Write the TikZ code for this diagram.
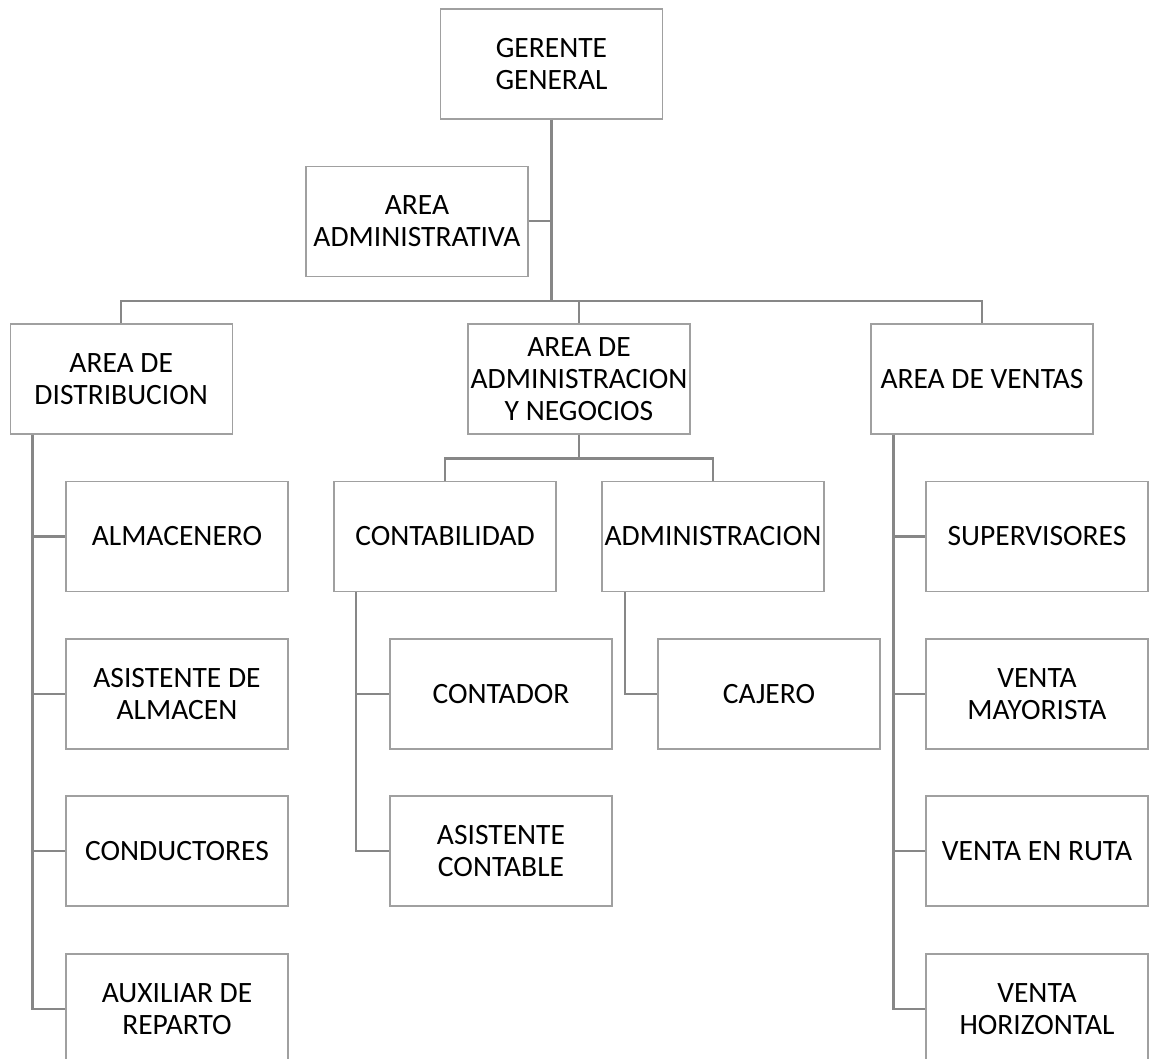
\documentclass[tikz,border=0pt]{standalone}
\usepackage{fontspec}
\setmainfont{Carlito}
\definecolor{boxgray}{RGB}{160,160,160}
\definecolor{lngray}{RGB}{135,135,135}
\begin{document}
\begin{tikzpicture}[x=1pt,y=-1pt,
  orgbox/.style={draw=boxgray, line width=1.4pt, minimum width=222pt, minimum height=110pt,
    inner sep=0pt, align=center, fill=white, font=\fontsize{29.5}{31.7}\selectfont},
  conn/.style={draw=lngray, line width=2.4pt}]
\clip (0,0) rectangle (1149,1059);
\fill[white] (0,0) rectangle (1149,1059);
% nodes
\node[orgbox] (gg) at (551.5,64) {GERENTE\\GENERAL};
\node[orgbox] (aa) at (417,221.3) {AREA\\ADMINISTRATIVA};
\node[orgbox] (ad) at (121.2,379) {AREA DE\\DISTRIBUCION};
\node[orgbox] (an) at (579,379) {AREA DE\\ADMINISTRACION\\Y NEGOCIOS};
\node[orgbox] (av) at (982,379) {AREA DE VENTAS};
\node[orgbox] (alm) at (177,536.3) {ALMACENERO};
\node[orgbox] (asa) at (177,694) {ASISTENTE DE\\ALMACEN};
\node[orgbox] (con) at (177,851) {CONDUCTORES};
\node[orgbox] (aux) at (177,1009) {AUXILIAR DE\\REPARTO};
\node[orgbox] (cnt) at (445,536.3) {CONTABILIDAD};
\node[orgbox] (adm) at (713,536.3) {ADMINISTRACION};
\node[orgbox] (ctd) at (501,694) {CONTADOR};
\node[orgbox] (asc) at (501,851) {ASISTENTE\\CONTABLE};
\node[orgbox] (caj) at (769,694) {CAJERO};
\node[orgbox] (sup) at (1037,536.3) {SUPERVISORES};
\node[orgbox] (vma) at (1037,694) {VENTA\\MAYORISTA};
\node[orgbox] (vru) at (1037,851) {VENTA EN RUTA};
\node[orgbox] (vho) at (1037,1009) {VENTA\\HORIZONTAL};
% helper coordinates
\coordinate (bus) at (0,301);
\coordinate (sb) at (0,458.3);
\coordinate (dv) at (32.3,0);
\coordinate (vv) at (893.3,0);
\coordinate (cv) at (356,0);
\coordinate (av2) at (625,0);
% connectors
\draw[conn] (gg.south) -- (gg.south |- bus);
\draw[conn] (aa.east) -- (aa.east -| gg.south);
\draw[conn] (ad.north) -- (ad.north |- bus) -- (av.north |- bus) -- (av.north);
\draw[conn] (an.north) -- (an.north |- bus);
\draw[conn] (an.south) -- (an.south |- sb);
\draw[conn] (cnt.north) -- (cnt.north |- sb) -- (adm.north |- sb) -- (adm.north);
% distribucion
\draw[conn] (dv |- ad.south) -- (dv |- aux.west) -- (aux.west);
\draw[conn] (dv |- alm.west) -- (alm.west);
\draw[conn] (dv |- asa.west) -- (asa.west);
\draw[conn] (dv |- con.west) -- (con.west);
% ventas
\draw[conn] (vv |- av.south) -- (vv |- vho.west) -- (vho.west);
\draw[conn] (vv |- sup.west) -- (sup.west);
\draw[conn] (vv |- vma.west) -- (vma.west);
\draw[conn] (vv |- vru.west) -- (vru.west);
% contabilidad
\draw[conn] (cv |- cnt.south) -- (cv |- asc.west) -- (asc.west);
\draw[conn] (cv |- ctd.west) -- (ctd.west);
% administracion
\draw[conn] (av2 |- adm.south) -- (av2 |- caj.west) -- (caj.west);
\end{tikzpicture}
\end{document}
